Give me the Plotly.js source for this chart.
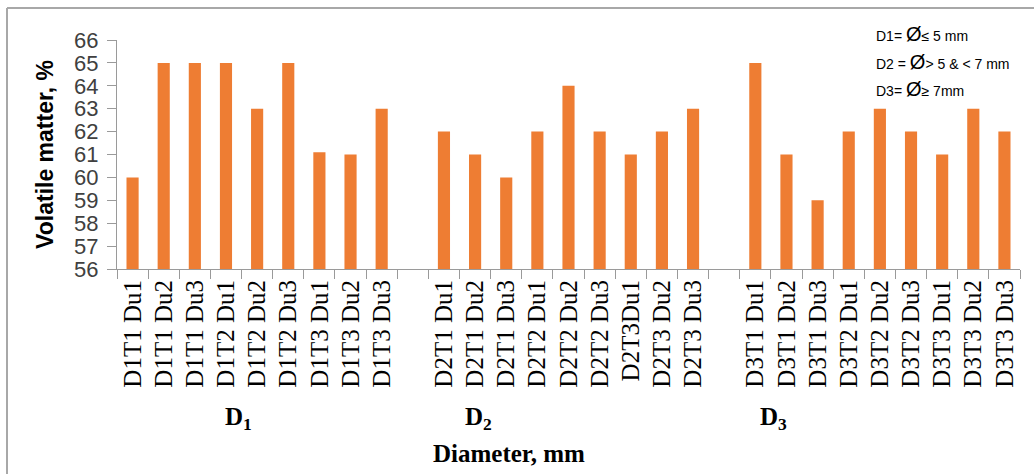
<!DOCTYPE html>
<html>
<head>
<meta charset="utf-8">
<script src="https://cdn.plot.ly/plotly-3.0.1.min.js"></script>
<style>
  html, body { margin: 0; padding: 0; background: #ffffff; }
  #chart { width: 1034px; height: 474px; }
</style>
</head>
<body>
<div id="chart"></div>
<script>
// ---- data ----
const d1Labels = ["D1T1 Du1","D1T1 Du2","D1T1 Du3","D1T2 Du1","D1T2 Du2","D1T2 Du3","D1T3 Du1","D1T3 Du2","D1T3 Du3"];
const d1Values = [60, 65, 65, 65, 63, 65, 61.1, 61, 63];
const d2Labels = ["D2T1 Du1","D2T1 Du2","D2T1 Du3","D2T2 Du1","D2T2 Du2","D2T2 Du3","D2T3Du1","D2T3 Du2","D2T3 Du3"];
const d2Values = [62, 61, 60, 62, 64, 62, 61, 62, 63];
const d3Labels = ["D3T1 Du1","D3T1 Du2","D3T1 Du3","D3T2 Du1","D3T2 Du2","D3T2 Du3","D3T3 Du1","D3T3 Du2","D3T3 Du3"];
const d3Values = [65, 61, 59, 62, 63, 62, 61, 63, 62];
const groupLabels = ["D<sub>1</sub>", "D<sub>2</sub>", "D<sub>3</sub>"];
const xTitle = "Diameter, mm";
const yTitle = "Volatile matter, %";
const noteLines = [
  "D1= <span style='font-size:20px'>Ø</span>≤ 5 mm",
  "D2 = <span style='font-size:20px'>Ø</span>> 5 &amp; < 7 mm",
  "D3= <span style='font-size:20px'>Ø</span>≥ 7mm"
];
const gap1 = " ", gap2 = "  ";

// build category axis with one empty slot between groups
const xCats = [...d1Labels, gap1, ...d2Labels, gap2, ...d3Labels];
const yVals = [...d1Values, null, ...d2Values, null, ...d3Values];

const trace = {
  type: "bar",
  x: xCats,
  y: yVals,
  marker: { color: "#EE7D33", line: { width: 0 } },
  hoverinfo: "x+y"
};

// layout geometry
const L = 117, R = 14, T = 40, B = 205;
const W = 1034, H = 474;
const pw = W - L - R, ph = H - T - B;
const px = v => (v - L) / pw;          // pixel x -> paper
const py = v => (H - B - v) / ph;      // pixel y -> paper

const serif = "Liberation Serif, Times New Roman, serif";
const sans = "Liberation Sans, Arial, sans-serif";

const groupX = [238, 478, 773];
const annotations = [];
groupLabels.forEach((g, i) => {
  annotations.push({
    xref: "paper", yref: "paper", x: px(groupX[i]), y: py(418),
    text: "<b>" + g + "</b>", showarrow: false, xanchor: "center", yanchor: "middle",
    font: { family: serif, size: 25, color: "#000" }
  });
});
annotations.push({
  xref: "paper", yref: "paper", x: px(509), y: py(453),
  text: "<b>" + xTitle + "</b>", showarrow: false, xanchor: "center", yanchor: "middle",
  font: { family: serif, size: 25, color: "#000" }
});
const noteY = [34, 62, 89];
noteLines.forEach((t, i) => {
  annotations.push({
    xref: "paper", yref: "paper", x: px(874), y: py(noteY[i]),
    text: t, showarrow: false, xanchor: "left", yanchor: "middle",
    font: { family: sans, size: 14, color: "#000" }
  });
});

const layout = {
  width: W, height: H,
  margin: { l: L, r: R, t: T, b: B, pad: 0 },
  paper_bgcolor: "#ffffff",
  plot_bgcolor: "#ffffff",
  showlegend: false,
  bargap: 0.61,
  xaxis: {
    type: "category",
    categoryorder: "array",
    categoryarray: xCats,
    tickson: "boundaries",
    ticks: "outside",
    ticklen: 9,
    tickcolor: "#9a9a9a",
    showline: true,
    linecolor: "#9a9a9a",
    linewidth: 1,
    showgrid: false,
    tickangle: -90,
    tickfont: { family: serif, size: 25, color: "#000" },
    automargin: false,
    fixedrange: true
  },
  yaxis: {
    range: [56, 66],
    dtick: 1,
    ticks: "outside",
    ticklen: 9,
    ticklabelstandoff: 4,
    tickcolor: "#9a9a9a",
    showline: true,
    linecolor: "#9a9a9a",
    linewidth: 1,
    showgrid: false,
    zeroline: false,
    tickfont: { family: sans, size: 22, color: "#404040" },
    title: {
      text: "<b>" + yTitle + "</b>",
      font: { family: sans, size: 23, color: "#000" },
      standoff: 14
    },
    automargin: false,
    fixedrange: true
  },
  shapes: [
    { type: "line", xref: "paper", yref: "paper", x0: px(7), x1: px(1034), y0: py(8), y1: py(8),
      line: { color: "#a8a8a8", width: 2 } },
    { type: "line", xref: "paper", yref: "paper", x0: px(7), x1: px(7), y0: py(8), y1: py(474),
      line: { color: "#a8a8a8", width: 2 } }
  ],
  annotations: annotations
};

Plotly.newPlot("chart", [trace], layout, { displayModeBar: false, staticPlot: true });
</script>
</body>
</html>
